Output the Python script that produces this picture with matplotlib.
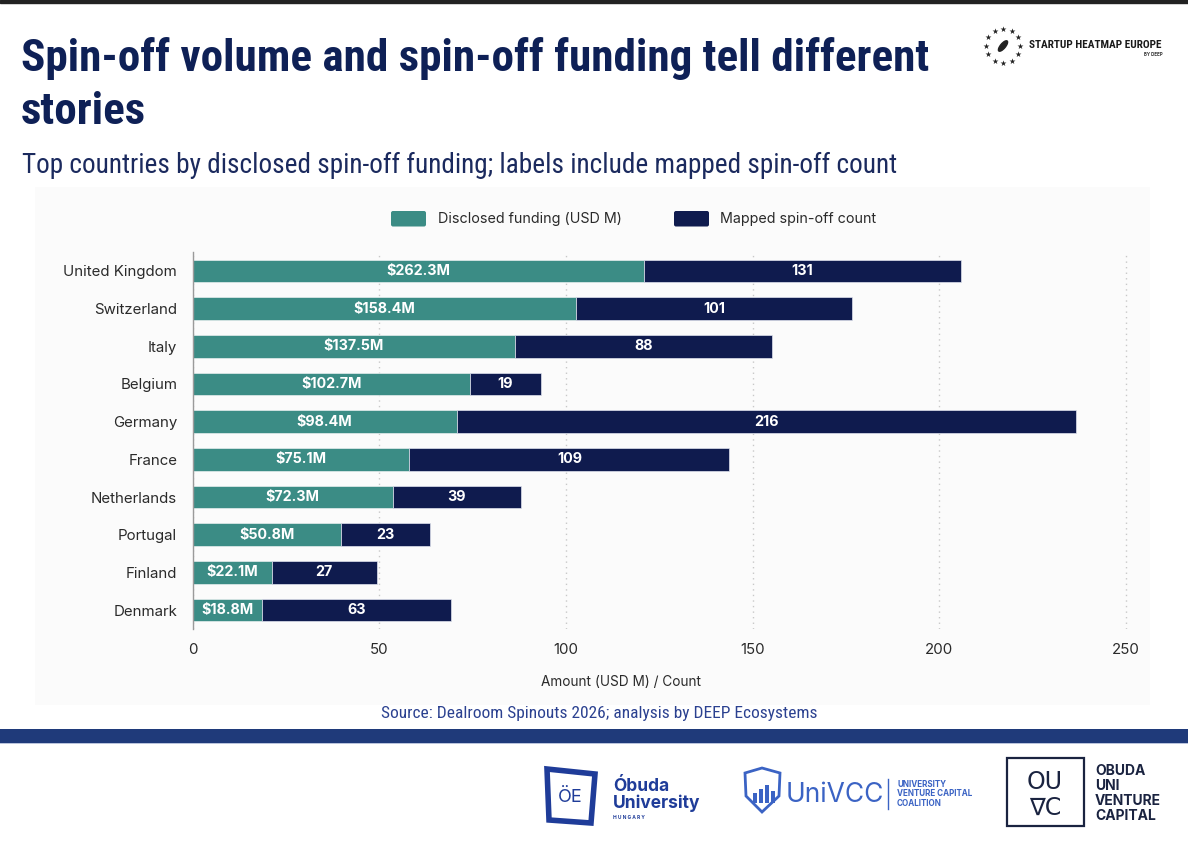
import matplotlib
matplotlib.use('Agg')
import numpy as np
import matplotlib.pyplot as plt
from matplotlib import font_manager as fm
from matplotlib.patches import Rectangle, FancyBboxPatch, Polygon, Ellipse

# data
countries = ['United Kingdom', 'Switzerland', 'Italy', 'Belgium', 'Germany',
             'France', 'Netherlands', 'Portugal', 'Finland', 'Denmark']
funding_usd_m = [262.3, 158.4, 137.5, 102.7, 98.4, 75.1, 72.3, 50.8, 22.1, 18.8]
spinoff_count = [131, 101, 88, 19, 216, 109, 39, 23, 27, 63]
# segment lengths as drawn against the x axis (the source chart rescales them)
funding_bar = [120.9, 102.8, 86.4, 74.3, 70.8, 58.1, 53.6, 39.7, 21.2, 18.7]
count_bar = [85.0, 73.8, 68.8, 19.0, 165.7, 85.7, 34.3, 24.0, 28.1, 50.5]
x_ticks = [0, 50, 100, 150, 200, 250]

TEAL = '#3b8c85'
NAVY = '#0f1b4e'
TITLE_NAVY = '#0e2056'

installed = {f.name for f in fm.fontManager.ttflist}


def first_font(*cands):
    for c in cands:
        if c in installed:
            return c
    return 'DejaVu Sans'


narrow = first_font('Roboto Condensed', 'Noto Sans Condensed', 'Liberation Sans Narrow',
                    'Open Sans Condensed', 'DejaVu Sans Condensed', 'Roboto')
ui = first_font('Inter', 'Roboto', 'DejaVu Sans')

W, H = 1188, 846
fig = plt.figure(figsize=(W / 100, H / 100), dpi=100)
fig.patch.set_facecolor('white')

# page decoration drawn in pixel coordinates
deco = fig.add_axes([0, 0, 1, 1], zorder=0)
deco.set_xlim(0, W)
deco.set_ylim(H, 0)
deco.axis('off')

deco.add_patch(Rectangle((0, 0), W, 3, color='#222222'))
deco.add_patch(Rectangle((35, 187), 1115, 518, color='#fbfbfb', lw=0))
deco.add_patch(Rectangle((0, 729), W, 14, color='#1f3a7a', lw=0))
deco.add_patch(Rectangle((0, 743), W, 1.5, color='#b9c3dc', lw=0))


def fit_width(txt, target):
    r = fig.canvas.get_renderer()
    w = txt.get_window_extent(r).width
    txt.set_fontsize(txt.get_fontsize() * target / w)


t1 = deco.text(21, 71, 'Spin-off volume and spin-off funding tell different',
               fontsize=36, fontweight='bold', family=narrow, fontstretch='condensed',
               color=TITLE_NAVY, va='baseline', ha='left')
t2 = deco.text(21, 124, 'stories', fontsize=36, fontweight='bold', family=narrow,
               fontstretch='condensed', color=TITLE_NAVY, va='baseline', ha='left')
sub = deco.text(22, 173, 'Top countries by disclosed spin-off funding; labels include mapped spin-off count',
                fontsize=21, family=narrow, fontstretch='condensed', color='#1b2a5e',
                va='baseline', ha='left')
src = deco.text(599, 718, 'Source: Dealroom Spinouts 2026; analysis by DEEP Ecosystems',
                fontsize=12, family=narrow, fontstretch='condensed', color='#2b4190',
                va='baseline', ha='center')
brand = deco.text(1029, 48, 'STARTUP HEATMAP EUROPE', fontsize=9, fontweight='bold',
                  family=narrow, fontstretch='condensed', color='#1a1a1a',
                  va='baseline', ha='left')
deco.text(1163, 56, 'BY DEEP', fontsize=3.2, fontweight='bold', color='#333333',
          va='baseline', ha='right', family=ui)

fig.canvas.draw()
fit_width(t1, 908)
t2.set_fontsize(t1.get_fontsize())
fit_width(sub, 873)
fit_width(src, 432)
fit_width(brand, 134)

# star ring logo
ang = np.linspace(0, 2 * np.pi, 12, endpoint=False)
deco.scatter(1003 + 17 * np.cos(ang), 46 + 17 * np.sin(ang), marker='*', s=20,
             color='#222222', lw=0)
deco.add_patch(Ellipse((1003, 46), 5, 13, angle=40, color='#222222'))

# legend
deco.add_patch(FancyBboxPatch((391, 211), 35, 15.5, boxstyle='round,pad=0,rounding_size=2',
                              color=TEAL, lw=0))
deco.text(438, 219, 'Disclosed funding (USD M)', fontsize=10.3, family=ui,
          color='#2a2a2a', va='center', ha='left')
deco.add_patch(FancyBboxPatch((674, 211), 35, 15.5, boxstyle='round,pad=0,rounding_size=2',
                              color=NAVY, lw=0))
deco.text(720, 219, 'Mapped spin-off count', fontsize=10.3, family=ui,
          color='#2a2a2a', va='center', ha='left')
deco.text(621, 682, 'Amount (USD M) / Count', fontsize=9.8, family=ui,
          color='#2a2a2a', va='center', ha='center')

# --- the chart ---
ax = fig.add_axes([192.5 / W, 1 - 629 / H, (1140 - 192.5) / W, 377 / H], zorder=1)
ax.patch.set_alpha(0)
y = np.arange(len(countries))
b1 = ax.barh(y, funding_bar, height=0.6, color=TEAL, edgecolor='#e6eeee', linewidth=0.5)
b2 = ax.barh(y, count_bar, left=funding_bar, height=0.6, color=NAVY,
             edgecolor='#dfe3ee', linewidth=0.5)
ax.bar_label(b1, labels=[f'${v}M' for v in funding_usd_m], label_type='center',
             color='white', fontweight='bold', fontsize=10.3, family=ui)
ax.bar_label(b2, labels=[str(v) for v in spinoff_count], label_type='center',
             color='white', fontweight='bold', fontsize=10.3, family=ui)

ax.set_ylim(len(countries) - 0.5, -0.5)
ax.set_xlim(0, (1140 - 192.5) / 3.734)
ax.set_xticks(x_ticks)
ax.set_yticks(y)
ax.set_yticklabels(countries)
for lab in ax.get_xticklabels() + ax.get_yticklabels():
    lab.set_family(ui)
ax.tick_params(axis='x', length=0, pad=10, labelsize=10.8, labelcolor='#2a2a2a')
ax.tick_params(axis='y', length=0, pad=11, labelsize=10.8, labelcolor='#2a2a2a')
ax.set_axisbelow(True)
ax.xaxis.grid(True, linestyle=(0, (1, 3)), color='#c8c8c8', linewidth=1)
for s in ['top', 'right', 'bottom']:
    ax.spines[s].set_visible(False)
ax.spines['left'].set_color('#9a9a9a')
ax.spines['left'].set_linewidth(1)

# --- footer logos ---
OB = '#1f3c99'
deco.add_patch(Polygon([[547, 769], [595, 774], [591, 823], [549, 820]], closed=True,
                       fill=False, edgecolor=OB, lw=4))
deco.text(570, 797, 'ÖE', fontsize=13, color=OB, ha='center', va='center', family=ui)
deco.text(613, 791, 'Óbuda', fontsize=12.5, fontweight='bold', color=OB, family=ui,
          va='baseline', ha='left')
deco.text(613, 808, 'University', fontsize=12.5, fontweight='bold', color=OB, family=ui,
          va='baseline', ha='left')
deco.text(613, 819, 'H U N G A R Y', fontsize=3.5, fontweight='bold', color=OB, family=ui,
          va='baseline', ha='left')

UV = '#3b63c4'
deco.add_patch(Polygon([[745, 773], [762, 768], [780, 773], [779, 796], [762, 812], [746, 796]],
                       closed=True, fill=False, edgecolor=UV, lw=2))
for bx, bh in [(753, 10), (759, 14), (765, 18), (771, 12)]:
    deco.add_patch(Rectangle((bx, 803 - bh), 3.5, bh, color=UV, lw=0))
deco.text(786, 802, 'UniVCC', fontsize=19, color=UV, family=ui, va='baseline', ha='left')
deco.plot([888, 888], [779, 809], color=UV, lw=1)
for i, line in enumerate(['UNIVERSITY', 'VENTURE CAPITAL', 'COALITION']):
    deco.text(897, 787 + i * 9.5, line, fontsize=5.8, fontweight='bold', color=UV,
              family=ui, va='baseline', ha='left')

OV = '#1a2340'
deco.add_patch(Rectangle((1007, 758), 77, 68, fill=False, edgecolor=OV, lw=1.6))
deco.text(1045, 789, 'OU', fontsize=17, color=OV, ha='center', va='baseline', family='DejaVu Sans')
deco.text(1045, 815, '∇C', fontsize=17, color=OV, ha='center', va='baseline', family='DejaVu Sans')
for i, line in enumerate(['OBUDA', 'UNI', 'VENTURE', 'CAPITAL']):
    deco.text(1095, 775 + i * 15, line, fontsize=10, fontweight='bold', color=OV,
              family=ui, va='baseline', ha='left')

fig.savefig('out.png', dpi=100)
